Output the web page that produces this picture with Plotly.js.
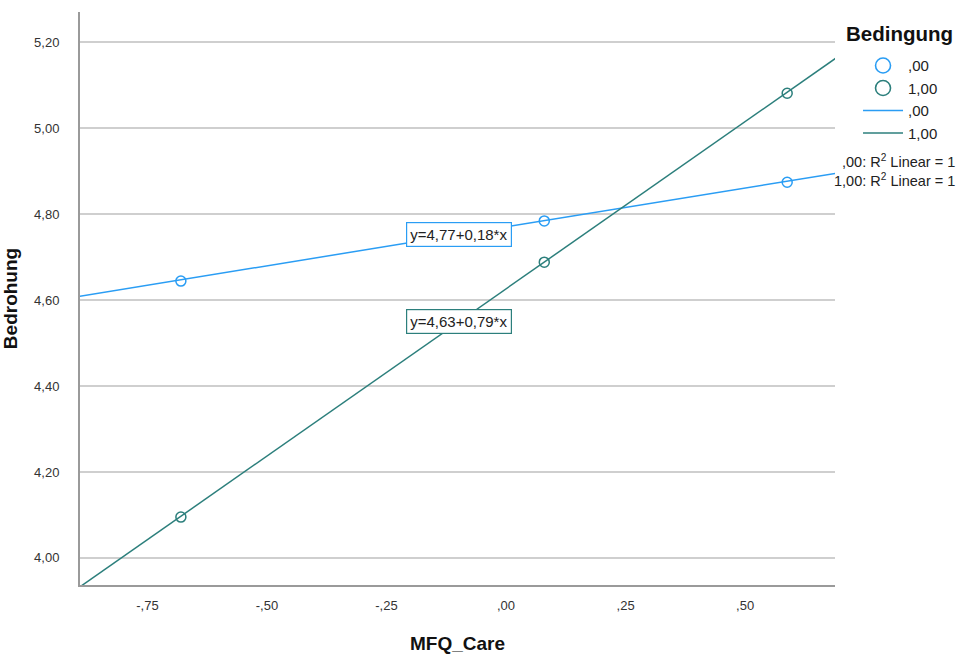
<!DOCTYPE html>
<html><head><meta charset="utf-8">
<script src="https://cdn.plot.ly/plotly-3.0.1.min.js"></script>
<style>html,body{margin:0;padding:0;background:#fff}#chart{width:958px;height:654px}</style>
</head><body><div id="chart"></div>
<script>
// Data
const groups = [",00", "1,00"];
const xPoints0 = [-0.68, 0.08, 0.588];
const yPoints0 = [4.644, 4.784, 4.874];
const xPoints1 = [-0.68, 0.08, 0.588];
const yPoints1 = [4.095, 4.688, 5.081];
const intercepts = [4.770, 4.626];
const slopes = [0.181, 0.778];
const equations = ["y=4,77+0,18*x", "y=4,63+0,79*x"];
const r2Labels = [",00: R<sup>2</sup> Linear = 1", "1,00: R<sup>2</sup> Linear = 1"];
const xTickVals = [-0.75, -0.5, -0.25, 0, 0.25, 0.5];
const xTickText = ["-,75", "-,50", "-,25", ",00", ",25", ",50"];
const yTickVals = [4.0, 4.2, 4.4, 4.6, 4.8, 5.0, 5.2];
const yTickText = ["4,00", "4,20", "4,40", "4,60", "4,80", "5,00", "5,20"];

const colors = ["#2a9df4", "#2c7f7c"];
const xRange = [-0.891, 0.688];
const yRange = [3.937, 5.27];

const traces = [];
const pts = [[xPoints0, yPoints0], [xPoints1, yPoints1]];
for (let i = 0; i < 2; i++) {
  traces.push({
    x: pts[i][0], y: pts[i][1], type: 'scatter', mode: 'markers', name: groups[i], showlegend: false,
    marker: {symbol: 'circle-open', size: 10, color: colors[i], line: {width: 1.5, color: colors[i]}},
    cliponaxis: false
  });
}
// legend entries for the point series (larger symbol as in the legend of the reference)
for (let i = 0; i < 2; i++) {
  traces.push({
    x: [null], y: [null], type: 'scatter', mode: 'markers', name: groups[i],
    marker: {symbol: 'circle-open', size: 15, color: colors[i], line: {width: 1.6, color: colors[i]}}
  });
}
for (let i = 0; i < 2; i++) {
  const xs = [xRange[0] - 0.05, xRange[1] + 0.05];
  traces.push({
    x: xs, y: xs.map(v => intercepts[i] + slopes[i] * v), type: 'scatter', mode: 'lines',
    name: groups[i], line: {color: colors[i], width: 1.5}
  });
}

const layout = {
  width: 958, height: 654,
  margin: {l: 80, r: 123, t: 12, b: 69, autoexpand: false},
  paper_bgcolor: '#fff', plot_bgcolor: '#fff',
  font: {family: 'Liberation Sans, Arial, sans-serif', color: '#222'},
  showlegend: true,
  legend: {
    x: 1.0305, xanchor: 'left', y: 0.935, yanchor: 'top',
    font: {size: 15, color: '#222'}, tracegroupgap: 0, itemwidth: 40,
    bgcolor: 'rgba(0,0,0,0)'
  },
  xaxis: {
    range: xRange, tickvals: xTickVals, ticktext: xTickText,
    showgrid: false, zeroline: false, showline: true, linecolor: '#9a9a9a', linewidth: 2,
    ticks: '', tickfont: {size: 13, color: '#333'}, ticklabelstandoff: 7,
    title: {text: '<b>MFQ_Care</b>', font: {size: 19, color: '#111'}, standoff: 25}
  },
  yaxis: {
    range: yRange, tickvals: yTickVals, ticktext: yTickText,
    showgrid: true, gridcolor: '#cfcfcf', gridwidth: 1.2, zeroline: false,
    showline: true, linecolor: '#9a9a9a', linewidth: 2,
    ticks: '', tickfont: {size: 13, color: '#333'}, ticklabelstandoff: 16,
    title: {text: '<b>Bedrohung</b>', font: {size: 19, color: '#111'}, standoff: 18}
  },
  annotations: [
    {x: 1.0, y: 1.0, xref: 'paper', yref: 'paper', xanchor: 'left', yanchor: 'middle', xshift: 9, yshift: -21,
     text: '<b>Bedingung</b>', showarrow: false, font: {size: 20.5, color: '#111'}},
    {x: -0.098, y: 4.753, xref: 'x', yref: 'y', text: equations[0], showarrow: false,
     font: {size: 15, color: '#222'}, bordercolor: colors[0], borderwidth: 1.2, borderpad: 3, bgcolor: '#fff'},
    {x: -0.098, y: 4.551, xref: 'x', yref: 'y', text: equations[1], showarrow: false,
     font: {size: 15, color: '#222'}, bordercolor: colors[1], borderwidth: 1.2, borderpad: 3, bgcolor: '#fff'},
    {x: 1.0, y: 0.759, xref: 'paper', yref: 'paper', xanchor: 'right', xshift: 122, text: r2Labels[0], showarrow: false,
     font: {size: 14.5, color: '#222'}},
    {x: 1.0, y: 0.726, xref: 'paper', yref: 'paper', xanchor: 'right', xshift: 122, text: r2Labels[1], showarrow: false,
     font: {size: 14.5, color: '#222'}}
  ]
};
Plotly.newPlot('chart', traces, layout, {displayModeBar: false, staticPlot: true});
</script></body></html>
